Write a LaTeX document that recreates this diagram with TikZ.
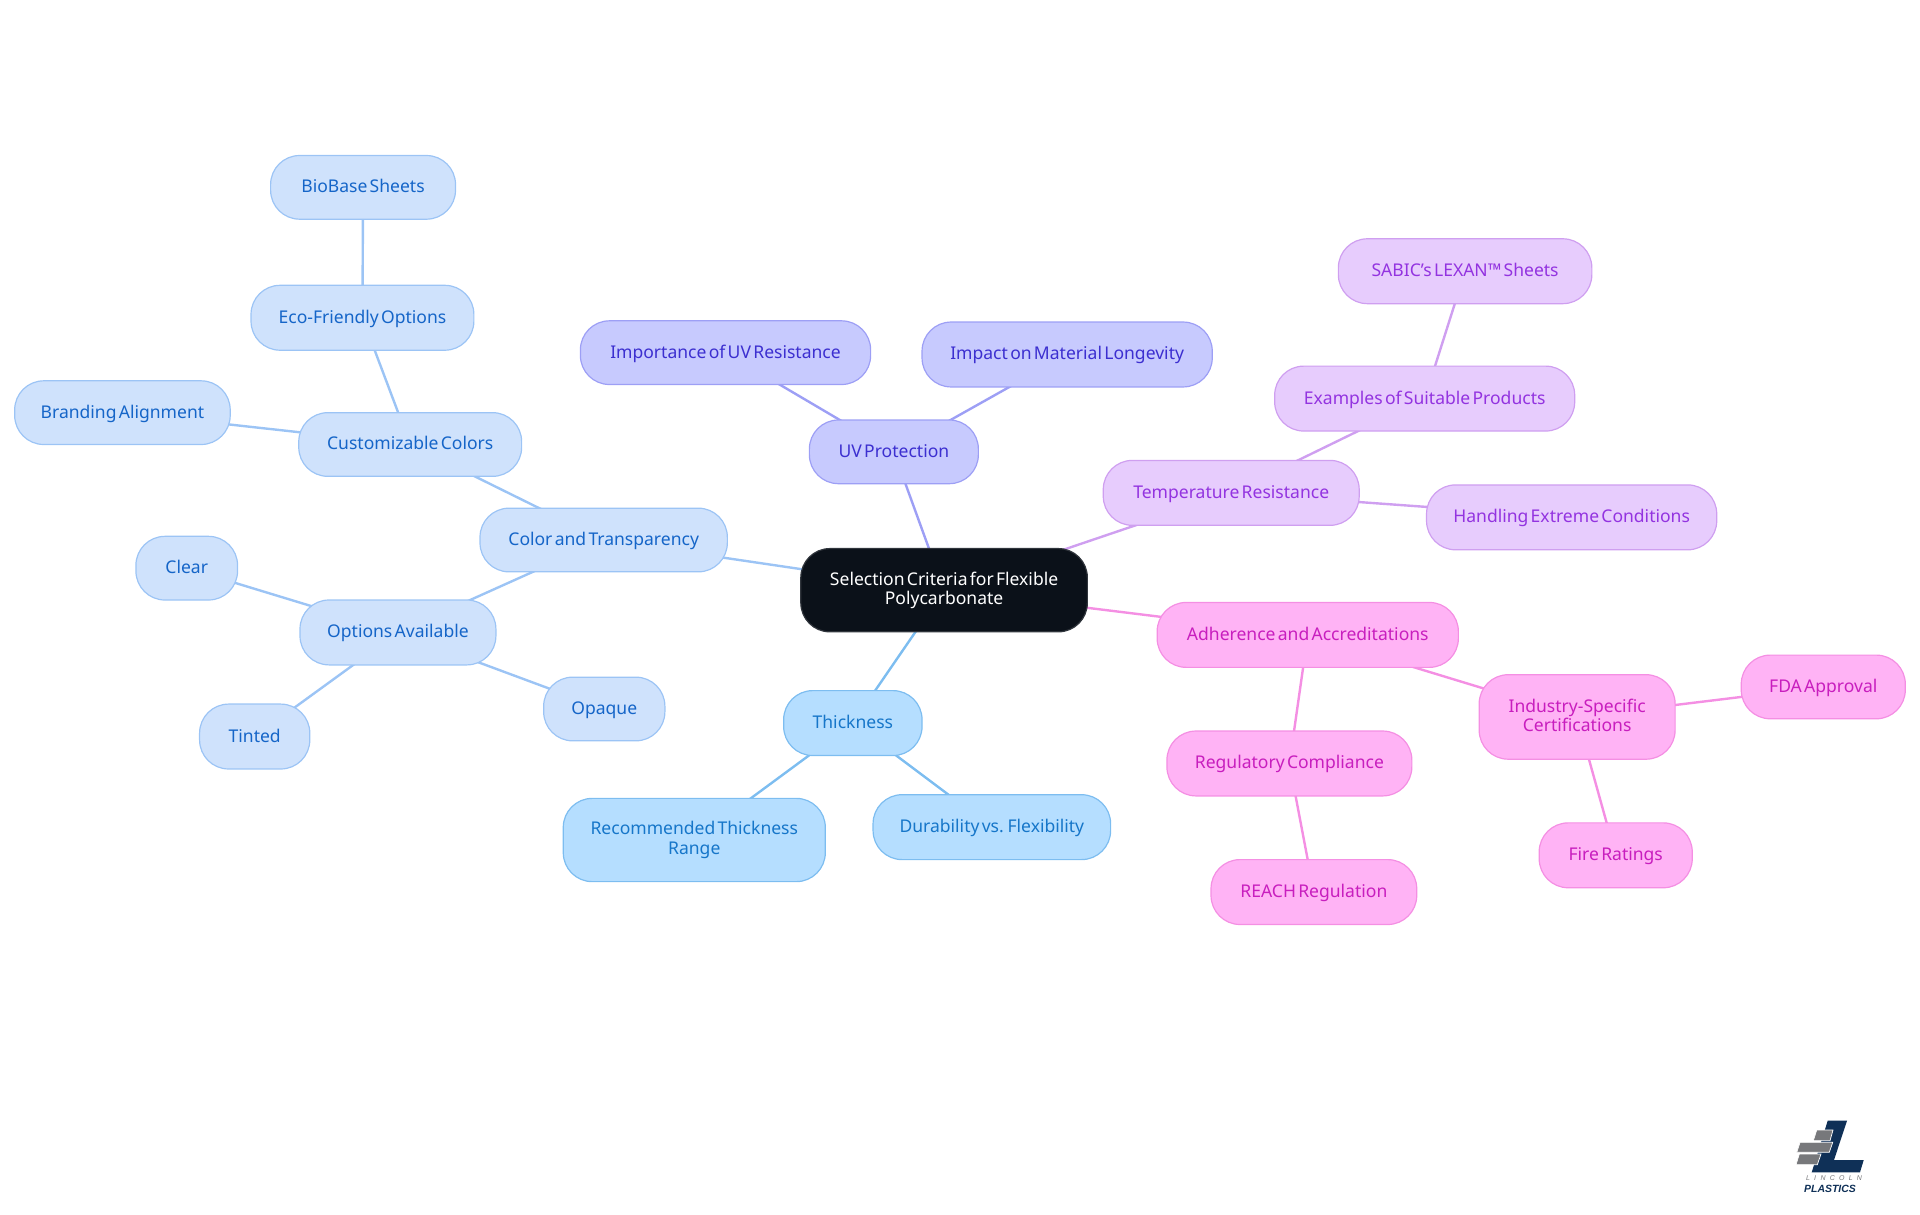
\documentclass[tikz,border=0pt]{standalone}
\usepackage{fontspec}
\setmainfont{Noto Sans}[WordSpace=0.5]
\newfontfamily\logofont{Liberation Sans}
\usetikzlibrary{backgrounds}
\newcommand{\lowered}[1]{\raisebox{-1.8bp}{#1}}
\definecolor{rootfill}{HTML}{0B1119}
\definecolor{bluefill}{HTML}{CFE2FC}\definecolor{bluedraw}{HTML}{9CC4F5}\definecolor{bluetext}{HTML}{1565C8}
\definecolor{skyfill}{HTML}{B5DEFF}\definecolor{skydraw}{HTML}{7DBDF0}\definecolor{skytext}{HTML}{1676C9}
\definecolor{indfill}{HTML}{C7CAFE}\definecolor{inddraw}{HTML}{9D9FF5}\definecolor{indtext}{HTML}{3C2FD0}
\definecolor{purfill}{HTML}{E7CCFD}\definecolor{purdraw}{HTML}{CF9FF0}\definecolor{purtext}{HTML}{9333E0}
\definecolor{pinkfill}{HTML}{FFB3F5}\definecolor{pinkdraw}{HTML}{F48FE3}\definecolor{pinktext}{HTML}{C81EBE}
\definecolor{logonavy}{HTML}{0F3057}\definecolor{logogray}{HTML}{77787B}
\tikzset{
  sz/.style 2 args={minimum width=#1*1.2245bp,minimum height=#2*1.2245bp},
  mm/.style={rectangle,rounded corners=29bp,inner sep=0pt,outer sep=0pt,align=center,line width=1.2bp,
    font=\fontsize{17.6}{19.6}\selectfont,
    execute at begin node={\rule{0pt}{16bp}},execute at end node={\rule[-5bp]{0pt}{5bp}}},
  rootn/.style={mm,fill=rootfill,draw=rootfill!85!white,text=white},
  bluen/.style={mm,fill=bluefill,draw=bluedraw,text=bluetext},
  skyn/.style={mm,fill=skyfill,draw=skydraw,text=skytext},
  indn/.style={mm,fill=indfill,draw=inddraw,text=indtext},
  purn/.style={mm,fill=purfill,draw=purdraw,text=purtext},
  pinkn/.style={mm,fill=pinkfill,draw=pinkdraw,text=pinktext},
  edge/.style={line width=2.4bp},
}
\begin{document}
\begin{tikzpicture}[x=1.2245bp,y=-1.2245bp]
\useasboundingbox (0,0) rectangle (1568,992.2);
\node[rootn,sz={234}{68}] (root) at (771,482) {\lowered{Selection Criteria for Flexible}\\\lowered{Polycarbonate}};
\node[indn,sz={138}{52}] (uv) at (730,369) {UV Protection};
\node[indn,sz={237}{52}] (impuv) at (592.5,288) {Importance of UV Resistance};
\node[indn,sz={237}{53}] (impact) at (871.5,289.5) {Impact on Material Longevity};
\node[purn,sz={209}{53}] (temp) at (1005.5,402.5) {Temperature Resistance};
\node[purn,sz={245}{53}] (ex) at (1163.5,325.5) {Examples of Suitable Products};
\node[purn,sz={207}{53}] (sabic) at (1196.5,221.5) {SABIC's LEXAN™ Sheets};
\node[purn,sz={237}{53}] (hand) at (1283.5,422.5) {Handling Extreme Conditions};
\node[bluen,sz={202}{52}] (color) at (493,441) {Color and Transparency};
\node[bluen,sz={182}{52}] (custom) at (335,363) {Customizable Colors};
\node[bluen,sz={182}{53}] (eco) at (296,259.5) {Eco-Friendly Options};
\node[bluen,sz={151}{52}] (bio) at (296.5,153) {BioBase Sheets};
\node[bluen,sz={176}{52}] (brand) at (100,337) {Branding Alignment};
\node[bluen,sz={160}{53}] (options) at (325,516.5) {Options Available};
\node[bluen,sz={83}{52}] (clear) at (152.5,464) {Clear};
\node[bluen,sz={90}{53}] (tinted) at (208,601.5) {Tinted};
\node[bluen,sz={99}{52}] (opaque) at (493.5,579) {Opaque};
\node[skyn,sz={113}{53}] (thick) at (696.5,590.5) {Thickness};
\node[skyn,sz={214}{68}] (rec) at (567,686) {\lowered{Recommended Thickness}\\\lowered{Range}};
\node[skyn,sz={194}{53}] (dur) at (810,675.5) {Durability vs. Flexibility};
\node[pinkn,sz={246}{53}] (adh) at (1068,518.5) {Adherence and Accreditations};
\node[pinkn,sz={200}{53}] (reg) at (1053,623.5) {Regulatory Compliance};
\node[pinkn,sz={168}{53}] (reach) at (1073,728.5) {REACH Regulation};
\node[pinkn,sz={160}{69}] (ind) at (1288,585.5) {\lowered{Industry-Specific}\\\lowered{Certifications}};
\node[pinkn,sz={134}{52}] (fda) at (1489,561) {FDA Approval};
\node[pinkn,sz={125}{53}] (fire) at (1319.5,698.5) {Fire Ratings};
\begin{scope}[on background layer]
  \draw[edge,draw=inddraw] (root.center)--(uv.center) (uv.center)--(impuv.center) (uv.center)--(impact.center);
  \draw[edge,draw=purdraw] (root.center)--(temp.center) (temp.center)--(ex.center) (ex.center)--(sabic.center) (temp.center)--(hand.center);
  \draw[edge,draw=bluedraw] (root.center)--(color.center) (color.center)--(custom.center) (custom.center)--(eco.center) (eco.center)--(bio.center) (custom.center)--(brand.center) (color.center)--(options.center) (options.center)--(clear.center) (options.center)--(tinted.center) (options.center)--(opaque.center);
  \draw[edge,draw=skydraw] (root.center)--(thick.center) (thick.center)--(rec.center) (thick.center)--(dur.center);
  \draw[edge,draw=pinkdraw] (root.center)--(adh.center) (adh.center)--(reg.center) (reg.center)--(reach.center) (adh.center)--(ind.center) (ind.center)--(fda.center) (ind.center)--(fire.center);
\end{scope}
% logo, in reference pixels
\begin{scope}[x=1bp,y=-1bp,shift={(1760bp,-1090bp)}]
  \fill[logonavy] (67.7,30.7)--(87,30.7)--(74,70)--(103.7,70)--(100,82.3)--(51.7,82.3)--cycle;
  \filldraw[logogray,draw=white,line width=0.7bp] (56.7,40)--(73,40)--(70,50.7)--(53.3,50.7)--cycle;
  \filldraw[logogray,draw=white,line width=0.7bp] (40,52.3)--(72.7,52.3)--(69.3,62.3)--(36.7,62.3)--cycle;
  \filldraw[logogray,draw=white,line width=0.7bp] (39.3,64)--(61,64)--(57.3,74.7)--(36,74.7)--cycle;
  \node[inner sep=0pt,text=logogray] (lin) at (74,88.5) {\logofont\itshape\fontsize{7}{7}\selectfont L\hspace{4.2bp}I\hspace{4.6bp}N\hspace{4.2bp}C\hspace{4.2bp}O\hspace{4.2bp}L\hspace{4.2bp}N};
  \node[inner sep=0pt,text=logonavy] (pla) at (70,98.5) {\logofont\bfseries\itshape\fontsize{10.5}{10.5}\selectfont PLASTICS};
\end{scope}
\end{tikzpicture}
\end{document}
